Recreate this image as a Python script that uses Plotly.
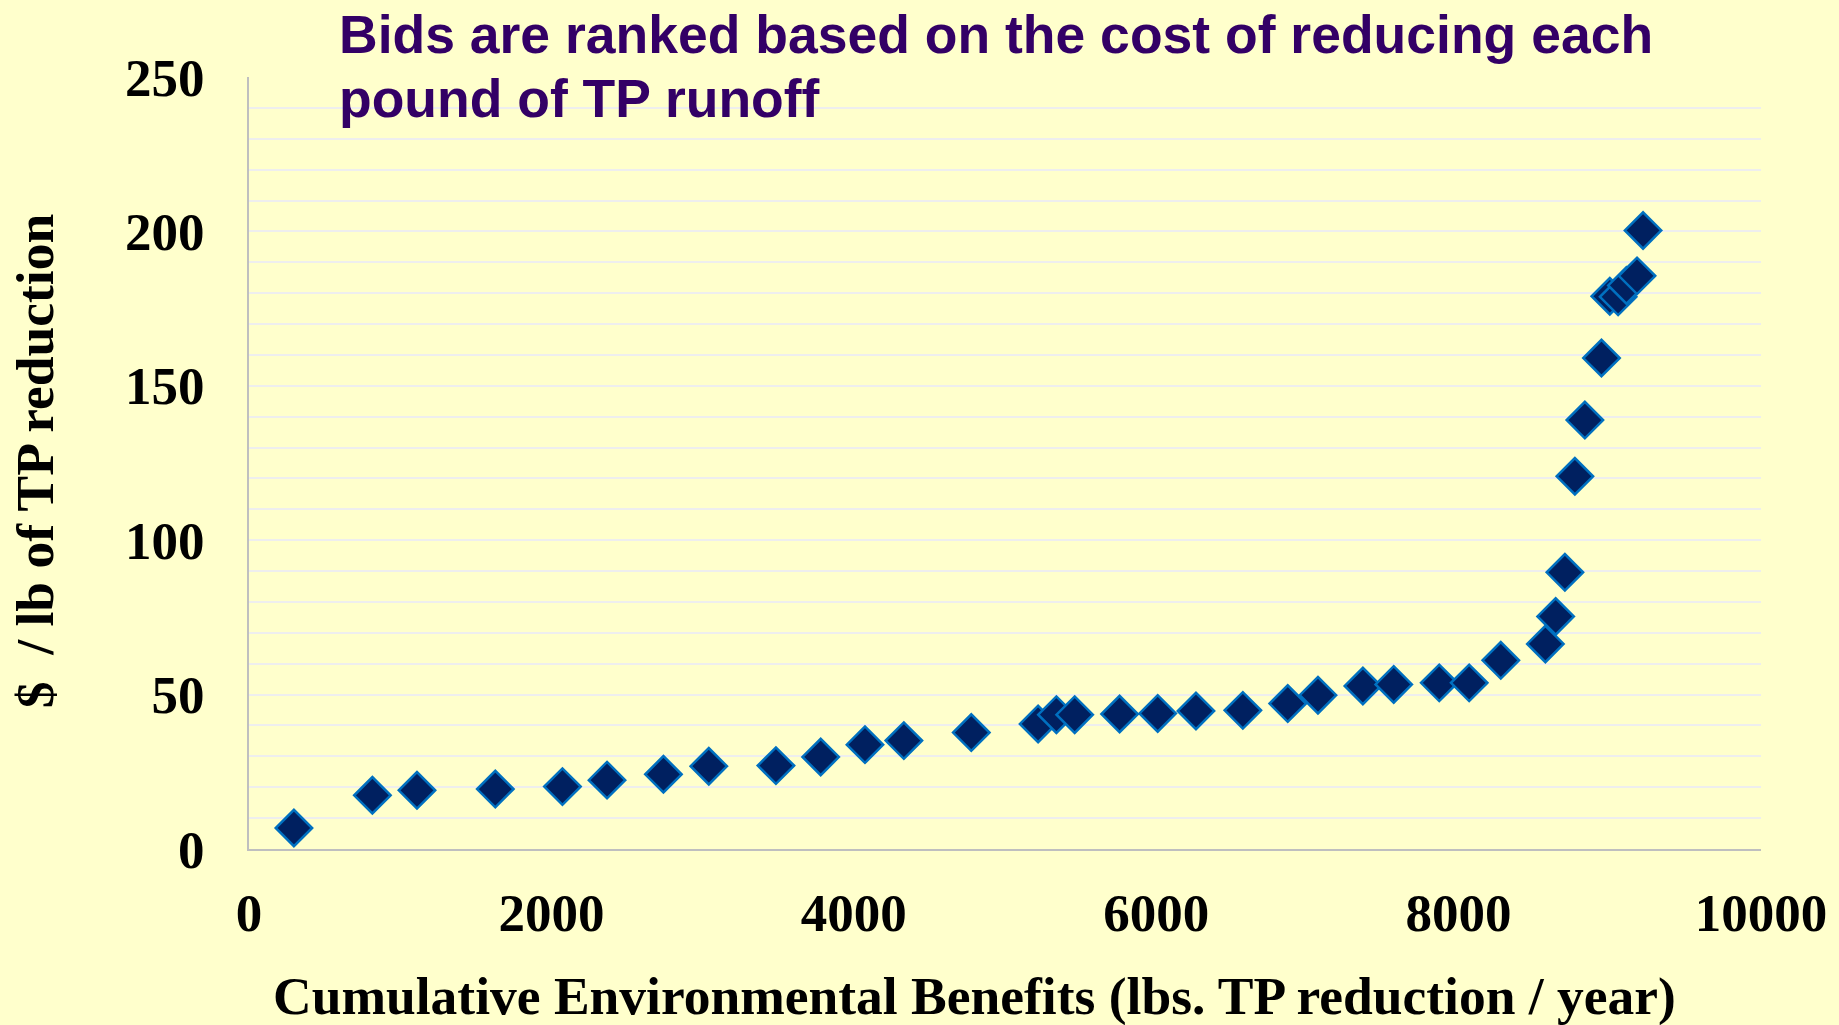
import plotly.graph_objects as go

# Cumulative environmental benefits (lbs TP reduction / year)
cum_benefits = [297, 816, 1111, 1629, 2073, 2368, 2741, 3041, 3485, 3781,
                4074, 4331, 4777, 5219, 5340, 5461, 5758, 6010, 6263, 6573,
                6870, 7070, 7367, 7571, 7872, 8070, 8279, 8574, 8642, 8703,
                8769, 8835, 8945, 9000, 9055, 9110, 9180, 9220]
# $ / lb of TP reduction
cost_per_lb = [6.8, 17.4, 19.0, 19.4, 20.2, 22.3, 24.2, 26.8, 27.0, 29.8,
               33.8, 35.1, 37.7, 40.5, 43.5, 43.5, 43.7, 43.9, 44.7, 44.9,
               47.1, 49.8, 52.8, 53.3, 53.8, 53.8, 61.1, 66.4, 75.3, 89.6,
               120.7, 138.9, 159.0, 179.0, 178.8, 182.5, 185.6, 200.3]

x_ticks = [0, 2000, 4000, 6000, 8000, 10000]
x_tick_labels = ["0", "2000", "4000", "6000", "8000", "10000"]
y_ticks = [0, 50, 100, 150, 200, 250]
y_tick_labels = ["0", "50", "100", "150", "200", "250"]

title_lines = ["Bids are ranked based on the cost of reducing each",
               "pound of TP runoff"]
x_title = "Cumulative Environmental Benefits (lbs. TP reduction / year)"
y_title = "$  / lb of TP reduction"

BG = "#FFFFCC"
SERIF = "Times New Roman, Liberation Serif, serif"
SANS = "Arial, Liberation Sans, sans-serif"

fig = go.Figure()
fig.add_trace(go.Scatter(
    x=cum_benefits, y=cost_per_lb, mode="markers",
    marker=dict(symbol="diamond", size=28, color="#002060",
                line=dict(color="#0070C0", width=2.5)),
    showlegend=False, hoverinfo="x+y"))

fig.update_layout(
    width=1839, height=1025,
    margin=dict(l=249, r=74, t=77, b=176, pad=0),
    paper_bgcolor=BG, plot_bgcolor=BG,
    xaxis=dict(range=[0, 10000], tickvals=x_ticks, ticktext=x_tick_labels,
               showgrid=False, zeroline=False,
               showline=True, linecolor="#BFBFBF", linewidth=2, ticks="",
               tickfont=dict(family=SERIF, size=53, color="black", weight="bold"),
               ticklabelstandoff=16, fixedrange=True),
    yaxis=dict(range=[0, 250], tickvals=y_ticks, ticktext=y_tick_labels,
               showgrid=True, gridcolor="#EEEEEE", gridwidth=2, zeroline=False,
               showline=True, linecolor="#BFBFBF", linewidth=2, ticks="",
               minor=dict(dtick=10, tick0=0, showgrid=True, gridcolor="#EEEEEE", gridwidth=2),
               tickfont=dict(family=SERIF, size=53, color="black", weight="bold"),
               ticklabelstandoff=32, fixedrange=True),
)

fig.add_annotation(text=title_lines[0], xref="paper", yref="paper",
                   x=0.0583, y=1.0549, xanchor="left", yanchor="middle", showarrow=False,
                   font=dict(family=SANS, size=53.5, color="#330066", weight="bold"))
fig.add_annotation(text=title_lines[1], xref="paper", yref="paper",
                   x=0.0583, y=0.9720, xanchor="left", yanchor="middle", showarrow=False,
                   font=dict(family=SANS, size=53.5, color="#330066", weight="bold"))
fig.add_annotation(text=x_title, xref="paper", yref="paper",
                   x=0.480, y=-0.191, xanchor="center", yanchor="middle", showarrow=False,
                   font=dict(family=SERIF, size=53.5, color="black", weight="bold"))
fig.add_annotation(text=y_title, xref="paper", yref="paper", textangle=-90,
                   x=-0.141, y=0.502, xanchor="center", yanchor="middle", showarrow=False,
                   font=dict(family=SERIF, size=53.5, color="black", weight="bold"))

fig.write_html("out.html", config={"displayModeBar": False})
